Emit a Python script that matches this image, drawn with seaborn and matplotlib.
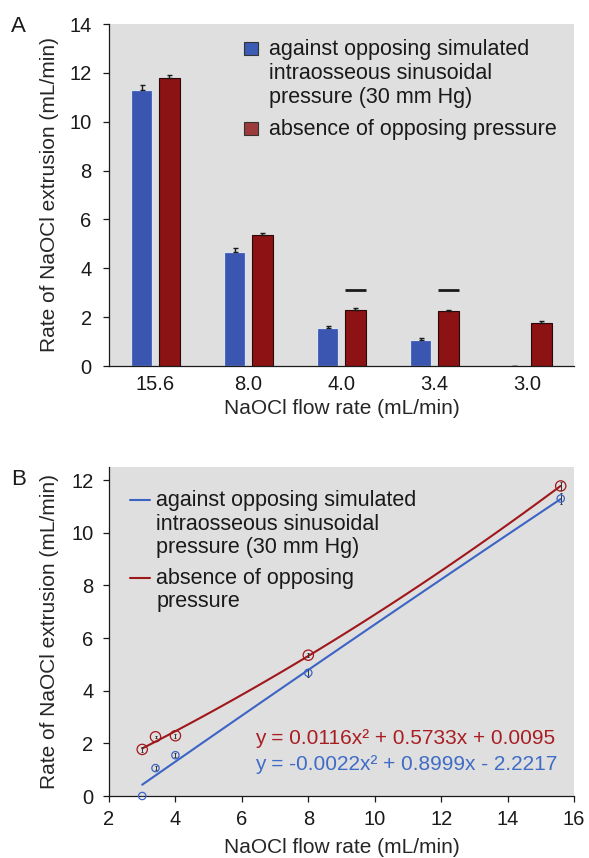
import numpy as np
import pandas as pd
import matplotlib
matplotlib.use("Agg")
import matplotlib.pyplot as plt
import seaborn as sns
from matplotlib.patches import Rectangle
from matplotlib.lines import Line2D

# ---------------- data ----------------
flow_labels = ["15.6", "8.0", "4.0", "3.4", "3.0"]
flow_rates = [15.6, 8.0, 4.0, 3.4, 3.0]
opposed_rate = [11.30, 4.68, 1.55, 1.06, 0.00]
opposed_err = [0.20, 0.14, 0.07, 0.09, 0.00]
free_rate = [11.78, 5.35, 2.29, 2.25, 1.77]
free_err = [0.14, 0.08, 0.07, 0.04, 0.08]
series = ["against opposing simulated intraosseous sinusoidal pressure (30 mm Hg)",
          "absence of opposing pressure"]
legend_lines_a = [["against opposing simulated", "intraosseous sinusoidal", "pressure (30 mm Hg)"],
                  ["absence of opposing pressure"]]
legend_lines_b = [["against opposing simulated", "intraosseous sinusoidal", "pressure (30 mm Hg)"],
                  ["absence of opposing", "pressure"]]
sig_groups = ["4.0", "3.4"]
sig_level = 3.1
eq_free = "y = 0.0116x² + 0.5733x + 0.0095"
eq_opposed = "y = -0.0022x² + 0.8999x - 2.2217"
yticks_a = [0, 2, 4, 6, 8, 10, 12, 14]
yticks_b = [0, 2, 4, 6, 8, 10, 12]
xticks_b = [2, 4, 6, 8, 10, 12, 14, 16]
ylabel = "Rate of NaOCl extrusion (mL/min)"
xlabel = "NaOCl flow rate (mL/min)"

# ---------------- style ----------------
sns.set_theme(style="ticks")
plt.rcParams["font.family"] = ["Liberation Sans", "DejaVu Sans"]
plt.rcParams["axes.facecolor"] = "#dfdfdf"

bar_blue = "#3a56b0"
bar_red = "#8c1214"
line_blue = "#3c64c4"
line_red = "#a0171b"
txt_blue = "#3f6cc6"
txt_red = "#a81e23"
dark = "#1a1a1a"
FS = 15
TFS = 14.5

W, H = 589, 858
def fx(px):
    return px / W
def fy(py):
    return 1 - py / H

fig = plt.figure(figsize=(W / 100, H / 100), dpi=100)
axA = fig.add_axes([fx(109), fy(366), (574 - 109) / W, (366 - 24) / H])
axB = fig.add_axes([fx(109), fy(796), (574 - 109) / W, (796 - 467) / H])

# ---------------- panel A ----------------
df = pd.DataFrame({
    "flow": flow_labels * 2,
    "rate": opposed_rate + free_rate,
    "cond": [series[0]] * len(flow_labels) + [series[1]] * len(flow_labels),
})
sns.barplot(data=df, x="flow", y="rate", hue="cond", order=flow_labels,
            hue_order=series, palette=[bar_blue, bar_red], saturation=1,
            width=0.6, gap=0.25, errorbar=None, legend=False, ax=axA)

for p in axA.containers[0]:
    p.set_edgecolor("#dce4f4")
    p.set_linewidth(0.9)
for p in axA.containers[1]:
    p.set_edgecolor("#2a0808")
    p.set_linewidth(0.8)

for cont, err in zip(axA.containers, [opposed_err, free_err]):
    xs = [p.get_x() + p.get_width() / 2 for p in cont]
    hs = [p.get_height() for p in cont]
    axA.errorbar(xs, hs, yerr=[np.zeros(len(err)), err], fmt="none",
                 ecolor=dark, elinewidth=1.0, capsize=1.8, capthick=1.0, zorder=5)

for g in sig_groups:
    p = axA.containers[1][flow_labels.index(g)]
    axA.hlines(sig_level, p.get_x(), p.get_x() + p.get_width(), color=dark, lw=2.0)

axA.set_xlim(-0.5, len(flow_labels) - 0.5)
axA.set_ylim(0, 14)
axA.set_yticks(yticks_a)
axA.set_xlabel(xlabel, fontsize=FS)
axA.set_ylabel(ylabel, fontsize=FS)
axA.tick_params(axis="x", length=0, pad=6.5, labelsize=TFS, colors=dark)
axA.tick_params(axis="y", length=4.0, width=0.9, pad=8.5, labelsize=TFS, colors=dark)

# ---------------- panel B ----------------
for rate, err, col, s in [(opposed_rate, opposed_err, line_blue, 28),
                          (free_rate, free_err, line_red, 55)]:
    sns.regplot(x=flow_rates, y=rate, order=2, ci=None, scatter=False,
                truncate=True, line_kws=dict(color=col, lw=1.5), ax=axB)
    axB.errorbar(flow_rates, rate, yerr=err, fmt="none", ecolor="#333333",
                 elinewidth=0.7, capsize=1.0, capthick=0.7, zorder=4)
    sns.scatterplot(x=flow_rates, y=rate, marker="o", s=s, color=col, ax=axB,
                    zorder=5, clip_on=False)
    coll = axB.collections[-1]
    coll.set_facecolor("none")
    coll.set_edgecolor(col)
    coll.set_linewidth(0.9)

axB.set_xlim(2, 16)
axB.set_ylim(0, 12.5)
axB.set_xticks(xticks_b)
axB.set_yticks(yticks_b)
axB.set_xlabel(xlabel, fontsize=FS)
axB.set_ylabel(ylabel, fontsize=FS)
axB.tick_params(axis="x", length=4.3, width=0.9, pad=6, labelsize=TFS, colors=dark)
axB.tick_params(axis="y", length=4.3, width=0.9, pad=7, labelsize=TFS, colors=dark)

for ax in [axA, axB]:
    ax.spines[["top", "right"]].set_visible(False)
    for sp in ["left", "bottom"]:
        ax.spines[sp].set_color(dark)
        ax.spines[sp].set_linewidth(0.9)
    ax.yaxis.set_label_coords((50 - 109) / 465, 0.5)
    ax.yaxis.label.set_verticalalignment("center")
    ax.grid(False)

axA.xaxis.set_label_coords(0.5, (366 - 399) / 342)
axB.xaxis.set_label_coords(0.5, (796 - 838) / 329)

# ---------------- legends ----------------
LFS = 15.5
# panel A legend
for lines, col, base in [(legend_lines_a[0], "#3b5bb5", 55), (legend_lines_a[1], "#9c3b3b", 135)]:
    fig.add_artist(Rectangle((fx(244), fy(base)), 14 / W, 13 / H, transform=fig.transFigure,
                             facecolor=col, edgecolor="#333333", lw=0.8))
    for i, t in enumerate(lines):
        fig.text(fx(269), fy(base + 24 * i), t, fontsize=LFS, color=dark, va="baseline", ha="left")

# panel B legend
for lines, col, base in [(legend_lines_b[0], line_blue, 506), (legend_lines_b[1], line_red, 584)]:
    fig.add_artist(Line2D([fx(130), fx(150)], [fy(base - 6), fy(base - 6)], transform=fig.transFigure,
                          color=col, lw=1.5))
    for i, t in enumerate(lines):
        fig.text(fx(156.5), fy(base + 23.5 * i), t, fontsize=LFS, color=dark, va="baseline", ha="left")

# equations
fig.text(fx(255), fy(743.5), eq_free, fontsize=FS, color=txt_red, va="baseline", ha="left")
fig.text(fx(255), fy(770), eq_opposed, fontsize=FS, color=txt_blue, va="baseline", ha="left")

# panel letters
fig.text(fx(11), fy(32), "A", fontsize=FS + 1, color=dark, va="baseline", ha="left")
fig.text(fx(11), fy(485), "B", fontsize=FS + 1, color=dark, va="baseline", ha="left")

fig.savefig("out.png", dpi=100)
